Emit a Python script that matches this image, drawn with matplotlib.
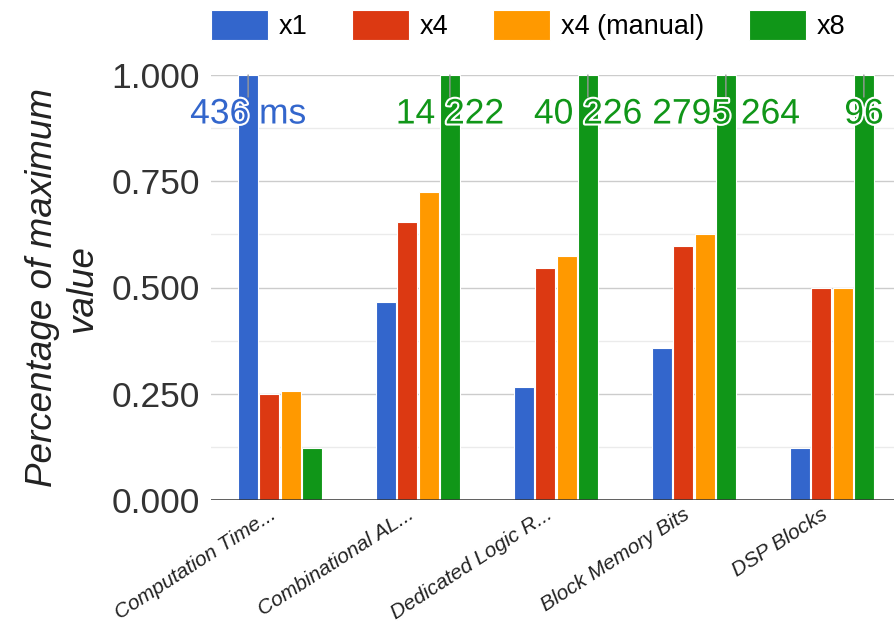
import numpy as np
import matplotlib
matplotlib.use('Agg')
import matplotlib.pyplot as plt
import matplotlib.patheffects as pe
from matplotlib.ticker import MultipleLocator, FormatStrFormatter
from matplotlib.transforms import ScaledTranslation

plt.rcParams['font.family'] = ['Liberation Sans', 'DejaVu Sans']

# data
categories = ['Computation Time...', 'Combinational AL...', 'Dedicated Logic R...',
              'Block Memory Bits', 'DSP Blocks']
series_names = ['x1', 'x4', 'x4 (manual)', 'x8']
x1 = [1.0, 0.467, 0.265, 0.357, 0.122]
x4 = [0.249, 0.655, 0.547, 0.598, 0.498]
x4_manual = [0.257, 0.725, 0.573, 0.625, 0.500]
x8 = [0.122, 1.0, 1.0, 1.0, 1.0]
# annotation text on the bars that hit the top, and which series carries it
top_labels = ['436 ms', '14 222', '40 226', '2795 264', '96']
top_label_series = [0, 3, 3, 3, 3]

colors = ['#3366cc', '#dc3912', '#ff9900', '#109618']

fig = plt.figure(figsize=(8.94, 6.26), dpi=100)
ax = fig.add_axes([211 / 894, 126 / 626, 690 / 894, 425 / 626])

values = [x1, x4, x4_manual, x8]
pos = np.arange(len(categories))
pitch = 0.154
width = 0.145
for i, (name, vals) in enumerate(zip(series_names, values)):
  ax.bar(pos + (i - 1.5) * pitch, vals, width, color=colors[i], label=name,
         edgecolor='white', linewidth=0.8, zorder=3)

ax.set_xlim(-0.5, len(categories) - 0.5)
ax.set_ylim(0, 1.0)

ax.yaxis.set_major_locator(MultipleLocator(0.25))
ax.yaxis.set_minor_locator(MultipleLocator(0.125))
ax.yaxis.set_major_formatter(FormatStrFormatter('%.3f'))
ax.grid(axis='y', which='major', color='#cccccc', lw=1, zorder=0)
ax.grid(axis='y', which='minor', color='#ebebeb', lw=1, zorder=0)
ax.axhline(0, color='#333333', lw=1.8, zorder=4)
for s in ax.spines.values():
  s.set_visible(False)
ax.tick_params(axis='both', which='both', length=0)
ax.tick_params(axis='y', labelsize=25.5, labelcolor='#333333', pad=8)

ax.set_xticks(pos)
ax.set_xticklabels(categories, rotation=33, ha='right', va='center',
                   rotation_mode='anchor', fontsize=15, style='italic',
                   color='#222222')
ax.tick_params(axis='x', pad=9)
# slanted labels sit a little left of the group centre
shift = ScaledTranslation(-6 / 100, 0, fig.dpi_scale_trans)
for lab in ax.get_xticklabels():
  lab.set_transform(lab.get_transform() + shift)

ax.set_ylabel('Percentage of maximum\nvalue', fontsize=26.5, style='italic',
              color='#222222', linespacing=1.2, labelpad=8)

# annotations with stems, like google charts
for g, (lbl, si) in enumerate(zip(top_labels, top_label_series)):
  bx = pos[g] + (si - 1.5) * pitch
  top = values[si][g]
  ax.annotate('', xy=(bx, top), xytext=(0, -22), textcoords='offset pixels',
              arrowprops=dict(arrowstyle='-', color='#999999', lw=1,
                              shrinkA=0, shrinkB=0), zorder=5)
  ax.annotate(lbl, xy=(bx, top), xytext=(0, -39), textcoords='offset pixels',
              ha='center', va='center', fontsize=25.5, color=colors[si], zorder=6,
              path_effects=[pe.withStroke(linewidth=3, foreground='white')])

fig.legend(loc='center left', bbox_to_anchor=(211 / 894, 1 - 25 / 626), ncol=4,
           frameon=False, fontsize=19.5, handlelength=2.1, handleheight=1.3,
           handletextpad=0.4, columnspacing=1.65, borderpad=0, borderaxespad=0)

fig.savefig('out.png', dpi=100)
